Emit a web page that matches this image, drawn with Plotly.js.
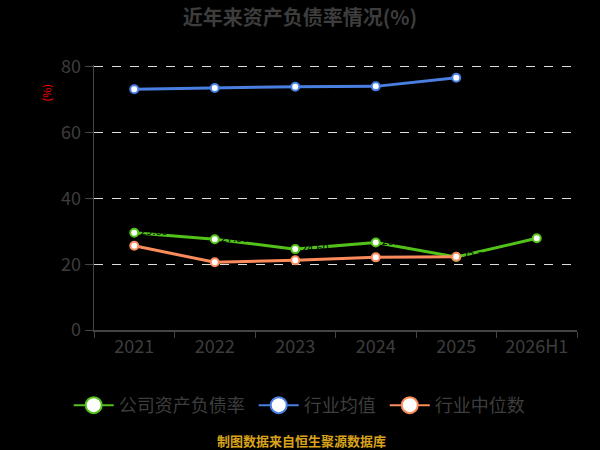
<!DOCTYPE html>
<html>
<head>
<meta charset="utf-8">
<script src="https://cdn.plot.ly/plotly-3.0.1.min.js"></script>
<style>
  html, body { margin: 0; padding: 0; background: #000; }
  #chart { width: 600px; height: 450px; }
</style>
</head>
<body>
<div id="chart"></div>
<script>
// Years on the x axis
const years = ['2021', '2022', '2023', '2024', '2025', '2026H1'];

// Series values (%)
const companyRatio = [29.6, 27.6, 24.6, 26.6, 22.2, 27.9];
const industryMean = [73.2, 73.6, 74.0, 74.1, 76.7];
const industryMedian = [25.6, 20.6, 21.2, 22.1, 22.3];

const seriesNames = ['公司资产负债率', '行业均值', '行业中位数'];
const seriesColors = ['#52c21a', '#4a7fe2', '#fb8b5b'];

const font = '"Noto Sans CJK SC", "Noto Sans", sans-serif';

function lineTrace(x, y, i, extra) {
    return Object.assign({
        x: x,
        y: y,
        name: seriesNames[i],
        type: 'scatter',
        mode: 'lines+markers',
        showlegend: false,
        line: { color: seriesColors[i], width: 3 },
        marker: { size: 8, color: '#ffffff', line: { color: seriesColors[i], width: 2 } },
        hoverinfo: 'x+y+name'
    }, extra || {});
}

// legend-only entries: thin line, big hollow marker like the reference
function legendTrace(i) {
    return {
        x: [null], y: [null],
        name: seriesNames[i] + '\u00a0',
        type: 'scatter',
        mode: 'lines+markers',
        line: { color: seriesColors[i], width: 2 },
        marker: { size: 16, color: '#ffffff', line: { color: seriesColors[i], width: 2 } }
    };
}

const traces = [
    lineTrace(years, companyRatio, 0, {
        mode: 'lines+markers+text',
        text: companyRatio.map(v => v.toFixed(2)),
        textposition: 'middle right',
        textfont: { color: '#000000', size: 11, family: font }
    }),
    lineTrace(years.slice(0, industryMean.length), industryMean, 1),
    lineTrace(years.slice(0, industryMedian.length), industryMedian, 2),
    legendTrace(0), legendTrace(1), legendTrace(2)
];

const layout = {
    width: 600,
    height: 450,
    paper_bgcolor: '#000000',
    plot_bgcolor: '#000000',
    margin: { t: 65, b: 120, l: 94, r: 23 },
    font: { family: font, color: '#444444' },
    title: {
        text: '<b>近年来资产负债率情况(%)</b>',
        font: { size: 20, color: '#3d3d3d', family: font },
        x: 0.5, xanchor: 'center',
        y: 0.96, yanchor: 'middle'
    },
    xaxis: {
        type: 'category',
        range: [-0.5, 5.5],
        showline: true,
        linecolor: '#444444',
        linewidth: 1.5,
        ticks: 'outside',
        tickson: 'boundaries',
        ticklen: 6,
        tickcolor: '#444444',
        tickfont: { size: 18, color: '#3d3d3d', family: font },
        showgrid: false,
        fixedrange: true
    },
    yaxis: {
        range: [0, 80.6],
        tickvals: [0, 20, 40, 60, 80],
        showline: true,
        linecolor: '#444444',
        linewidth: 1.5,
        ticks: 'outside',
        ticklen: 8,
        tickcolor: '#444444',
        tickfont: { size: 18, color: '#3d3d3d', family: font },
        showgrid: true,
        gridcolor: '#dddddd',
        griddash: 'dash',
        gridwidth: 1,
        zeroline: false,
        fixedrange: true
    },
    showlegend: true,
    legend: {
        orientation: 'h',
        x: 0.43, xanchor: 'center',
        y: -0.215, yanchor: 'top',
        font: { size: 18, color: '#3d3d3d', family: font },
        itemsizing: 'trace',
        itemwidth: 40,
        bgcolor: 'rgba(0,0,0,0)'
    },
    annotations: [{
        text: '(%)',
        xref: 'paper', yref: 'paper',
        x: -0.1, xanchor: 'center',
        y: 0.895, yanchor: 'middle',
        textangle: -90,
        showarrow: false,
        font: { size: 11, color: '#ff0000', family: font }
    }, {
        text: '<b>制图数据来自恒生聚源数据库</b>',
        xref: 'paper', yref: 'paper',
        x: 0.43, xanchor: 'center',
        y: -0.418, yanchor: 'middle',
        showarrow: false,
        font: { size: 13, color: '#d9a21b', family: font }
    }]
};

Plotly.newPlot('chart', traces, layout, { displayModeBar: false, staticPlot: true });
</script>
</body>
</html>
